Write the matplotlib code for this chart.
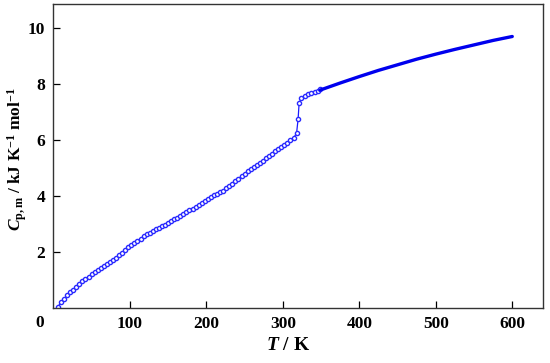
import numpy as np
import matplotlib.pyplot as plt

T_exp = [6, 10, 14, 18, 22, 26, 30, 34, 38, 42, 46, 50, 54, 58, 62, 66, 70, 74,
         78, 82, 86, 90, 94, 98, 102, 106, 110, 114, 118, 122, 126, 130, 134,
         138, 142, 146, 150, 154, 158, 162, 166, 170, 174, 178, 182, 186, 190,
         194, 198, 202, 206, 210, 214, 218, 222, 226, 230, 234, 238, 242, 246,
         250, 254, 258, 262, 266, 270, 274, 278, 282, 286, 290, 294, 298, 302,
         306, 310, 314, 318, 320, 321.3, 324.4, 328.8, 333, 337.5, 341.8, 346, 349]
Cp_exp = [0.05, 0.2, 0.33, 0.45, 0.56, 0.66, 0.76, 0.86, 0.95, 1.04, 1.12, 1.2,
          1.27, 1.34, 1.42, 1.49, 1.56, 1.63, 1.71, 1.8, 1.89, 1.98, 2.07, 2.16,
          2.24, 2.32, 2.4, 2.48, 2.56, 2.63, 2.69, 2.75, 2.81, 2.87, 2.93, 2.98,
          3.04, 3.1, 3.17, 3.23, 3.3, 3.36, 3.42, 3.49, 3.55, 3.62, 3.68, 3.75,
          3.82, 3.89, 3.96, 4.02, 4.08, 4.13, 4.19, 4.27, 4.35, 4.44, 4.53, 4.62,
          4.71, 4.8, 4.88, 4.96, 5.04, 5.11, 5.18, 5.26, 5.34, 5.42, 5.51, 5.6,
          5.67, 5.74, 5.81, 5.9, 6.0, 6.06, 6.24, 6.74, 7.31, 7.49, 7.57, 7.63,
          7.67, 7.7, 7.75, 7.8]

# estimated curve above 350 K (thick line)
T_fit = [349, 375, 400, 425, 450, 475, 500, 525, 550, 575, 600]
Cp_fit = [7.78, 8.03, 8.26, 8.48, 8.68, 8.88, 9.06, 9.23, 9.39, 9.55, 9.69]

plt.rcParams['font.family'] = ['Liberation Serif', 'DejaVu Serif']
plt.rcParams['mathtext.fontset'] = 'custom'
plt.rcParams['mathtext.rm'] = 'Liberation Serif:bold'
plt.rcParams['mathtext.it'] = 'Liberation Serif:bold:italic'
plt.rcParams['mathtext.bf'] = 'Liberation Serif:bold'

fig = plt.figure(figsize=(5.5, 3.63), dpi=100)
ax = fig.add_axes([0.097, 0.1515, 0.89, 0.8375])

ax.plot(T_exp, Cp_exp, '-', color='#1a1aff', lw=0.9, marker='o', ms=3.0,
        mfc='white', mec='#2a2aff', mew=1.0)
ax.plot(T_fit, Cp_fit, '-', color='#0000ee', lw=2.4, solid_capstyle='round')

ax.set_xlim(0, 640)
ax.set_ylim(0, 10.85)
ax.set_xticks([100, 200, 300, 400, 500, 600])
ax.set_yticks([2, 4, 6, 8, 10])
ax.tick_params(direction='in', length=5, width=0.9, labelsize=12.5, pad=6)
for lab in ax.get_xticklabels() + ax.get_yticklabels():
    lab.set_fontweight('bold')
for s in ax.spines.values():
    s.set_linewidth(1.0)
    s.set_color('#333333')

ax.text(-0.028, -0.05, '0', transform=ax.transAxes, ha='center', va='center',
        fontsize=12.5, fontweight='bold')

ax.set_xlabel(r'$T$ / K', fontsize=14, fontweight='bold')
ax.xaxis.set_label_coords(0.48, -0.095)
ax.set_ylabel(r'$C_{\mathrm{p,m}}$ / kJ K$^{\mathbf{-1}}$ mol$^{\mathbf{-1}}$',
              fontsize=12.5, fontweight='bold')
ax.yaxis.set_label_coords(-0.05, 0.49)

fig.savefig('out.png', dpi=100)
